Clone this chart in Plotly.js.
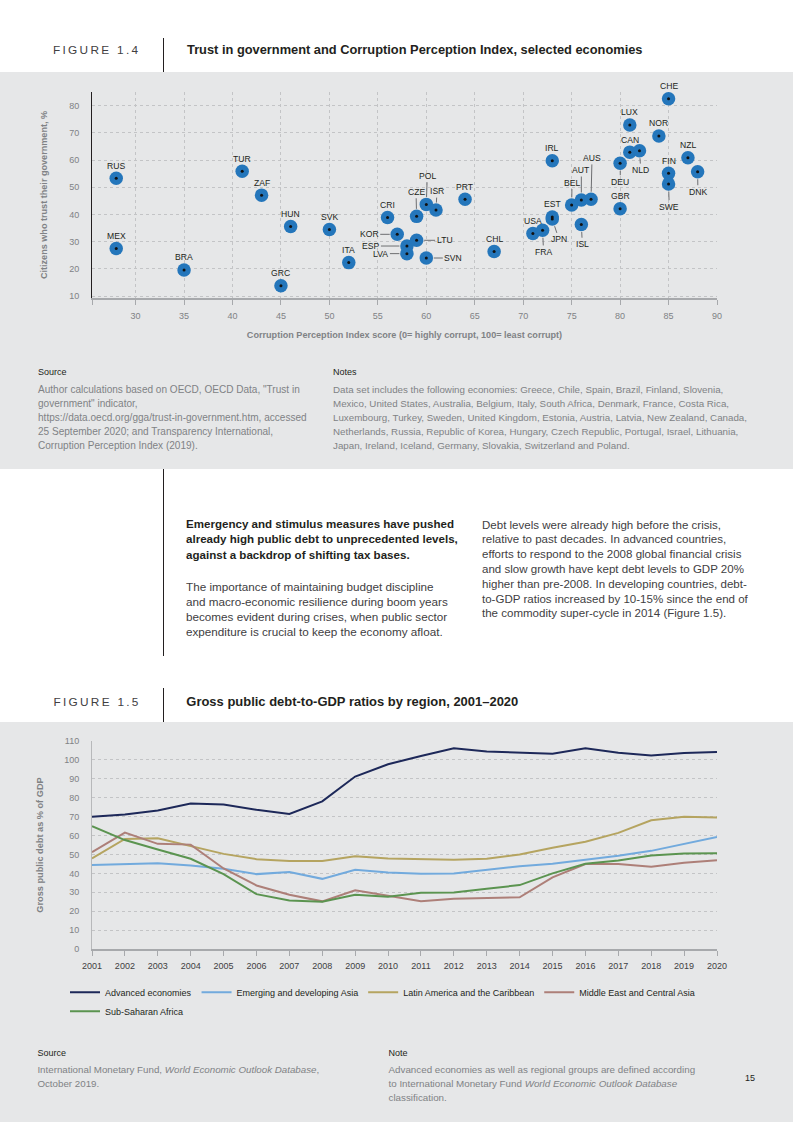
<!DOCTYPE html>
<html><head><meta charset="utf-8">
<script src="https://cdn.plot.ly/plotly-3.0.1.min.js"></script>
<style>
body{margin:0;padding:0;width:793px;height:1122px;position:relative;background:#fff;font-family:"Liberation Sans",Arial,Helvetica,sans-serif;overflow:hidden}
.abs{position:absolute;white-space:nowrap}
.panel{position:absolute;left:0;width:793px;background:#e6e7e8}
.vline{position:absolute;width:1px;background:#231f20}
.fig{font-size:12px;line-height:14px;letter-spacing:2.3px;color:#414042}
.ttl{font-size:11.5px;line-height:14px;font-weight:bold;color:#231f20}
.lbl{font-size:9px;line-height:14px;color:#231f20}
.small{font-size:9px;line-height:14px;color:#808285}
.body{font-size:11px;color:#414042}
</style></head><body>
<div class="panel" style="top:72px;height:397px"></div>
<div class="panel" style="top:722px;height:400px"></div>

<div class="abs fig" id="fig14" style="left:53px;top:43px">FIGURE 1.4</div>
<div class="vline" style="left:162.5px;top:38px;height:34px"></div>
<div class="abs ttl" id="title1" style="left:187px;top:43px">Trust in government and Corruption Perception Index, selected economies</div>

<div id="chart1" style="position:absolute;left:0;top:72px;width:793px;height:280px"></div>

<div class="abs lbl" style="left:38px;top:365px">Source</div>
<div class="abs small" id="src1" style="left:38px;top:383px">Author calculations based on OECD, OECD Data, "Trust in<br>government" indicator,<br>https://data.oecd.org/gga/trust-in-government.htm, accessed<br>25 September 2020; and Transparency International,<br>Corruption Perception Index (2019).</div>
<div class="abs lbl" style="left:333px;top:365px">Notes</div>
<div class="abs small" id="notes1" style="left:333px;top:383px">Data set includes the following economies: Greece, Chile, Spain, Brazil, Finland, Slovenia,<br>Mexico, United States, Australia, Belgium, Italy, South Africa, Denmark, France, Costa Rica,<br>Luxembourg, Turkey, Sweden, United Kingdom, Estonia, Austria, Latvia, New Zealand, Canada,<br>Netherlands, Russia, Republic of Korea, Hungary, Czech Republic, Portugal, Israel, Lithuania,<br>Japan, Ireland, Iceland, Germany, Slovakia, Switzerland and Poland.</div>

<div class="vline" style="left:162.5px;top:469px;height:187px"></div>
<div class="abs body" id="para1" style="left:186px;top:516.5px;line-height:15.6px;font-weight:bold;color:#231f20">Emergency and stimulus measures have pushed<br>already high public debt to unprecedented levels,<br>against a backdrop of shifting tax bases.</div>
<div class="abs body" id="para2" style="left:186px;top:578.5px;line-height:15px">The importance of maintaining budget discipline<br>and macro-economic resilience during boom years<br>becomes evident during crises, when public sector<br>expenditure is crucial to keep the economy afloat.</div>
<div class="abs body" id="para3" style="left:482px;top:517.6px;line-height:14.8px">Debt levels were already high before the crisis,<br>relative to past decades. In advanced countries,<br>efforts to respond to the 2008 global financial crisis<br>and slow growth have kept debt levels to GDP 20%<br>higher than pre-2008. In developing countries, debt-<br>to-GDP ratios increased by 10-15% since the end of<br>the commodity super-cycle in 2014 (Figure 1.5).</div>

<div class="abs fig" id="fig15" style="left:53.4px;top:695px">FIGURE 1.5</div>
<div class="vline" style="left:162.5px;top:688px;height:34px"></div>
<div class="abs ttl" id="title2" style="left:186.3px;top:695px">Gross public debt-to-GDP ratios by region, 2001–2020</div>

<div id="chart2" style="position:absolute;left:0;top:722px;width:793px;height:360px"></div>

<div class="abs lbl" style="left:37.4px;top:1046px">Source</div>
<div class="abs small" id="src2" style="left:37.4px;top:1063px">International Monetary Fund, <i>World Economic Outlook Database</i>,<br>October 2019.</div>
<div class="abs lbl" style="left:388.5px;top:1046px">Note</div>
<div class="abs small" id="note2" style="left:388.5px;top:1063px">Advanced economies as well as regional groups are defined according<br>to International Monetary Fund <i>World Economic Outlook Database</i><br>classification.</div>
<div class="abs lbl" style="left:745px;top:1071px">15</div>

<script>
// ---------- Figure 1.4 data ----------
const countries = ['RUS','MEX','BRA','TUR','ZAF','GRC','HUN','SVK','ITA','CRI','KOR','ESP','LVA','CZE','LTU','POL','SVN','ISR','PRT','CHL','USA','FRA','JPN','EST','IRL','BEL','AUT','ISL','AUS','DEU','GBR','CAN','LUX','NLD','NOR','CHE','FIN','SWE','NZL','DNK'];
const cpiScore = [28,28,35,41,43,45,46,50,52,56,57,58,58,59,59,60,60,61,64,67,71,72,73,73,73,75,76,76,77,80,80,81,81,82,84,85,85,85,87,88];
const trustPct = [53.3,27.5,19.6,55.9,47.1,13.8,35.6,34.5,22.3,38.9,32.7,28.4,25.6,39.3,30.5,43.7,24.0,41.6,45.6,26.4,33.0,34.2,38.3,39.1,59.7,43.5,45.3,36.3,45.6,58.8,42.1,62.9,72.9,63.4,68.8,82.5,55.1,51.2,60.8,55.7];
const xTickVals = [25.5,30,35,40,45,50,55,60,65,70,75,80,85,90];
const xTickText = ['','30','35','40','45','50','55','60','65','70','75','80','85','90'];
const yTickVals1 = [10,20,30,40,50,60,70,80,85];
const yTickText1 = ['10','20','30','40','50','60','70','80',''];

// label placement (style): leader-line labels, offsets in px from point
const leader = {
  KOR:[-28,0], ESP:[-36,0], LVA:[-26,0], LTU:[28,0], SVN:[27,0],
  POL:[1,-28.6], CZE:[-0.6,-24.6], ISR:[1,-19], FRA:[1,21.7], JPN:[6.7,20.3],
  BEL:[0.4,-22.4], AUT:[0,-30], AUS:[1,-41.3], ISL:[1,19.7], DEU:[0.3,18.4],
  NLD:[1.3,19.3], SWE:[0.7,22.7], DNK:[0.3,20]
};

// ---------- Figure 1.5 data ----------
const years = [2001,2002,2003,2004,2005,2006,2007,2008,2009,2010,2011,2012,2013,2014,2015,2016,2017,2018,2019,2020];
const advanced = [70.0,71.1,73.2,76.9,76.4,73.6,71.4,78.1,91.2,97.7,102.1,106.1,104.5,104.0,103.3,106.1,103.8,102.3,103.6,104.2];
const emergingAsia = [44.4,45.1,45.4,44.2,42.4,39.6,40.7,37.1,41.9,40.5,39.8,39.9,41.9,43.8,45.1,47.2,49.3,51.9,55.6,59.3];
const latinAmerica = [47.9,58.2,58.6,54.6,50.3,47.5,46.5,46.5,49.1,47.9,47.4,47.2,47.7,50.0,53.5,56.7,61.4,68.1,70.0,69.5];
const middleEast = [51.2,61.6,55.6,55.2,42.6,33.6,28.7,25.2,31.0,28.2,25.2,26.6,27.1,27.3,37.9,44.9,44.9,43.5,45.6,47.0];
const subSaharan = [64.9,57.6,52.6,47.7,39.6,29.0,25.7,25.0,28.7,27.6,29.7,29.9,31.9,33.8,40.0,45.1,46.8,49.5,50.5,50.7];
const seriesNames = ['Advanced economies','Emerging and developing Asia','Latin America and the Caribbean','Middle East and Central Asia','Sub-Saharan Africa'];
const yTickVals2 = [0,10,20,30,40,50,60,70,80,90,100,110];

// ---------- text width fitting ----------
function fit(id, target){
  const el = document.getElementById(id);
  const fs = parseFloat(getComputedStyle(el).fontSize);
  const w = el.getBoundingClientRect().width;
  if (w > 0) el.style.fontSize = (fs * target / w).toFixed(2) + 'px';
}
fit('fig14',87); fit('fig15',87);
fit('title1',456); fit('title2',332);
fit('src1',269); fit('notes1',414);
fit('para1',272); fit('para2',262); fit('para3',266);
fit('src2',282); fit('note2',307);

// ---------- Chart 1 ----------
const gridCol = '#c3c4c6';
const tickCol = '#808285';
const annots = countries.map((c,i)=>{
  const base = {x:cpiScore[i], y:trustPct[i], xref:'x', yref:'y', text:c,
    font:{size:8.6, color:'#231f20'}};
  if (leader[c]) {
    return Object.assign(base,{showarrow:true, arrowhead:0, arrowwidth:1, arrowcolor:'#6d6e71',
      ax:leader[c][0], ay:leader[c][1], axref:'pixel', ayref:'pixel', standoff:7.5});
  }
  return Object.assign(base,{showarrow:false, yshift:12.6});
});

Plotly.newPlot('chart1', [
  {type:'scatter', mode:'markers', x:cpiScore, y:trustPct, text:countries, hoverinfo:'none',
   marker:{size:13.5, color:'#2476bb', line:{width:0}}},
  {type:'scatter', mode:'markers', x:cpiScore, y:trustPct, hoverinfo:'none',
   marker:{size:3, color:'#111111', line:{width:0}}}
], {
  width:793, height:280,
  margin:{l:92, r:76, t:20, b:54},
  paper_bgcolor:'rgba(0,0,0,0)', plot_bgcolor:'rgba(0,0,0,0)',
  showlegend:false,
  font:{family:'"Liberation Sans", Arial, sans-serif'},
  xaxis:{range:[25.5,90], tickmode:'array', tickvals:xTickVals, ticktext:xTickText,
    ticks:'outside', ticklen:5, tickcolor:'#a7a9ac', tickwidth:1, ticklabelstandoff:4,
    showline:true, linecolor:'#a7a9ac', linewidth:1.5, mirror:false,
    showgrid:true, gridcolor:gridCol, griddash:'dot', gridwidth:1, zeroline:false,
    tickfont:{size:9, color:tickCol},
    title:{text:'<b>Corruption Perception Index score (0= highly corrupt, 100= least corrupt)</b>', font:{size:9.1, color:tickCol}, standoff:11}},
  yaxis:{range:[9.3,85], tickmode:'array', tickvals:yTickVals1, ticktext:yTickText1,
    ticks:'', ticklabelstandoff:10,
    showline:true, linecolor:'#231f20', linewidth:1,
    showgrid:true, gridcolor:gridCol, griddash:'dot', gridwidth:1, zeroline:false,
    tickfont:{size:9, color:tickCol},
    title:{text:'<b>Citizens who trust their government, %</b>', font:{size:9.1, color:tickCol}, standoff:19}},
  annotations: annots
}, {staticPlot:true, displayModeBar:false});

// ---------- Chart 2 ----------
const colors = ['#1d2859','#72aadd','#b5a460','#ad7f78','#5b9450'];
const vals = [advanced, emergingAsia, latinAmerica, middleEast, subSaharan];
const traces2 = vals.map((v,i)=>({
  type:'scatter', mode:'lines', x:years, y:v, name:seriesNames[i], hoverinfo:'none',
  line:{color:colors[i], width:2},
  legend: i===4 ? 'legend2' : 'legend'
}));
const legBase = {orientation:'h', xanchor:'left', yanchor:'top', bgcolor:'rgba(0,0,0,0)',
  font:{size:9, color:'#231f20'}, traceorder:'normal'};
Plotly.newPlot('chart2', traces2, {
  width:793, height:360,
  margin:{l:92, r:76, t:19, b:133},
  paper_bgcolor:'rgba(0,0,0,0)', plot_bgcolor:'rgba(0,0,0,0)',
  font:{family:'"Liberation Sans", Arial, sans-serif'},
  showlegend:true,
  legend:Object.assign({}, legBase, {x:-0.0432, y:-0.138}),
  legend2:Object.assign({}, legBase, {x:-0.0432, y:-0.230}),
  xaxis:{range:[2001,2020], tickmode:'array', tickvals:years,
    ticks:'outside', ticklen:5, tickcolor:'#a7a9ac', ticklabelstandoff:3,
    showline:true, linecolor:'#a7a9ac', linewidth:1.5,
    showgrid:false, zeroline:false, tickfont:{size:9, color:'#414042'}},
  yaxis:{range:[0,110], tickmode:'array', tickvals:yTickVals2,
    ticks:'', ticklabelstandoff:10,
    showline:true, linecolor:'#b7b8ba', linewidth:1,
    showgrid:true, gridcolor:gridCol, griddash:'dot', gridwidth:1, zeroline:false,
    tickfont:{size:9, color:tickCol},
    title:{text:'<b>Gross public debt as % of GDP</b>', font:{size:9.2, color:tickCol}, standoff:18}}
}, {staticPlot:true, displayModeBar:false});
</script>
</body></html>
